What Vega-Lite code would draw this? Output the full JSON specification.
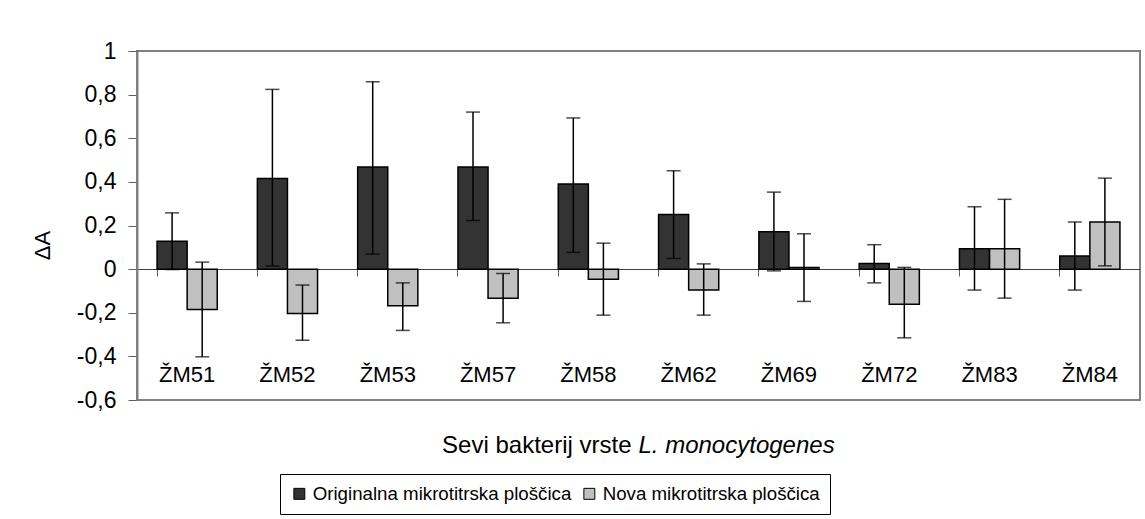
{
  "$schema": "https://vega.github.io/schema/vega-lite/v6.json",
  "width": 1003,
  "height": 349,
  "autosize": {"type": "none"},
  "padding": {"left": 137, "top": 51, "right": 5, "bottom": 119},
  "background": "white",
  "config": {
    "font": "Liberation Sans",
    "view": {"stroke": "#808080", "strokeWidth": 2},
    "axis": {"grid": false, "labelColor": "black", "titleColor": "black", "titleFontWeight": "normal", "labelFont": "Liberation Sans", "titleFont": "Liberation Sans"}
  },
  "data": {
    "values": [
      {"strain": "ŽM51", "group": "Originalna mikrotitrska ploščica", "value": 0.128, "lo": -0.002, "hi": 0.258},
      {"strain": "ŽM51", "group": "Nova mikrotitrska ploščica", "value": -0.185, "lo": -0.402, "hi": 0.032},
      {"strain": "ŽM52", "group": "Originalna mikrotitrska ploščica", "value": 0.416, "lo": 0.014, "hi": 0.824},
      {"strain": "ŽM52", "group": "Nova mikrotitrska ploščica", "value": -0.203, "lo": -0.326, "hi": -0.073},
      {"strain": "ŽM53", "group": "Originalna mikrotitrska ploščica", "value": 0.468, "lo": 0.069, "hi": 0.859},
      {"strain": "ŽM53", "group": "Nova mikrotitrska ploščica", "value": -0.168, "lo": -0.281, "hi": -0.063},
      {"strain": "ŽM57", "group": "Originalna mikrotitrska ploščica", "value": 0.468, "lo": 0.223, "hi": 0.72},
      {"strain": "ŽM57", "group": "Nova mikrotitrska ploščica", "value": -0.133, "lo": -0.246, "hi": -0.02},
      {"strain": "ŽM58", "group": "Originalna mikrotitrska ploščica", "value": 0.39, "lo": 0.077, "hi": 0.693},
      {"strain": "ŽM58", "group": "Nova mikrotitrska ploščica", "value": -0.046, "lo": -0.211, "hi": 0.119},
      {"strain": "ŽM62", "group": "Originalna mikrotitrska ploščica", "value": 0.251, "lo": 0.049, "hi": 0.451},
      {"strain": "ŽM62", "group": "Nova mikrotitrska ploščica", "value": -0.096, "lo": -0.211, "hi": 0.024},
      {"strain": "ŽM69", "group": "Originalna mikrotitrska ploščica", "value": 0.171, "lo": -0.008, "hi": 0.353},
      {"strain": "ŽM69", "group": "Nova mikrotitrska ploščica", "value": 0.007, "lo": -0.148, "hi": 0.162},
      {"strain": "ŽM72", "group": "Originalna mikrotitrska ploščica", "value": 0.026, "lo": -0.063, "hi": 0.112},
      {"strain": "ŽM72", "group": "Nova mikrotitrska ploščica", "value": -0.161, "lo": -0.315, "hi": 0.008},
      {"strain": "ŽM83", "group": "Originalna mikrotitrska ploščica", "value": 0.093, "lo": -0.096, "hi": 0.286},
      {"strain": "ŽM83", "group": "Nova mikrotitrska ploščica", "value": 0.093, "lo": -0.133, "hi": 0.32},
      {"strain": "ŽM84", "group": "Originalna mikrotitrska ploščica", "value": 0.06, "lo": -0.096, "hi": 0.216},
      {"strain": "ŽM84", "group": "Nova mikrotitrska ploščica", "value": 0.216, "lo": 0.015, "hi": 0.417}
    ]
  },
  "layer": [
    {
      "mark": {"type": "bar", "stroke": "black", "strokeWidth": 1.5, "opacity": 1},
      "encoding": {
        "x": {
          "field": "strain", "type": "nominal", "sort": null,
          "scale": {"paddingInner": 0.4, "paddingOuter": 0.2},
          "axis": {
            "orient": "bottom", "offset": -131, "labels": false, "ticks": true, "tickSize": 7,
            "tickColor": "#606060", "tickWidth": 1, "bandPosition": 0,
            "domainColor": "#404040", "domainWidth": 1,
            "title": "Sevi bakterij vrste", "titleFontSize": 24,
            "titleX": 494, "titleY": 183, "titleAlign": "right", "titleBaseline": "alphabetic"
          }
        },
        "xOffset": {
          "field": "group", "type": "nominal",
          "scale": {"domain": ["Originalna mikrotitrska ploščica", "Nova mikrotitrska ploščica"], "paddingInner": 0, "paddingOuter": 0}
        },
        "y": {
          "field": "value", "type": "quantitative",
          "scale": {"domain": [-0.6, 1], "nice": false, "zero": false},
          "axis": {
            "title": "ΔA", "values": [-0.6, -0.4, -0.2, 0, 0.2, 0.4, 0.6, 0.8, 1],
            "labelExpr": "replace(replace(format(datum.value, '.1~f'), '.', ','), '\u2212', '-')",
            "domainColor": "#808080", "domainWidth": 2, "tickColor": "#606060", "tickSize": 9,
            "labelPadding": 12, "labelFontSize": 23, "titleFontSize": 22,
            "titleX": -95, "titleY": 194, "titleAlign": "center", "titleBaseline": "middle", "titleAngle": -90
          }
        },
        "color": {
          "field": "group", "type": "nominal",
          "scale": {"domain": ["Originalna mikrotitrska ploščica", "Nova mikrotitrska ploščica"], "range": ["#333333", "#c0c0c0"]},
          "legend": {
            "orient": "none", "legendX": 143, "legendY": 423, "direction": "horizontal", "title": null,
            "strokeColor": "black", "fillColor": "white", "padding": 10,
            "labelFontSize": 18.7, "labelColor": "black", "labelFont": "Liberation Sans",
            "symbolType": "square", "symbolSize": 120, "symbolStrokeColor": "black", "symbolStrokeWidth": 1,
            "symbolOpacity": 1, "columnPadding": 8, "labelOffset": 4, "labelLimit": 400
          }
        }
      }
    },
    {
      "mark": {"type": "rule", "color": "black", "strokeWidth": 1.5},
      "encoding": {
        "x": {
          "field": "strain", "type": "nominal", "sort": null,
          "axis": {
            "orient": "bottom", "offset": -131, "domain": false, "ticks": false, "tickSize": 0,
            "labels": true, "labelPadding": 112, "labelBaseline": "alphabetic", "labelFontSize": 22, "labelAngle": 0,
            "title": "L. monocytogenes", "titleFontStyle": "italic", "titleFontSize": 24,
            "titleX": 501, "titleY": 183, "titleAlign": "left", "titleBaseline": "alphabetic"
          }
        },
        "xOffset": {"field": "group", "type": "nominal"},
        "y": {"field": "lo", "type": "quantitative", "title": "ΔA"},
        "y2": {"field": "hi"}
      }
    },
    {
      "mark": {"type": "tick", "orient": "horizontal", "color": "black", "size": 14, "thickness": 1.5},
      "encoding": {
        "x": {"field": "strain", "type": "nominal", "sort": null, "axis": null},
        "xOffset": {"field": "group", "type": "nominal"},
        "y": {"field": "hi", "type": "quantitative", "title": "ΔA"}
      }
    },
    {
      "mark": {"type": "tick", "orient": "horizontal", "color": "black", "size": 14, "thickness": 1.5},
      "encoding": {
        "x": {"field": "strain", "type": "nominal", "sort": null, "axis": null},
        "xOffset": {"field": "group", "type": "nominal"},
        "y": {"field": "lo", "type": "quantitative", "title": "ΔA"}
      }
    }
  ],
  "resolve": {"axis": {"x": "independent"}}
}
